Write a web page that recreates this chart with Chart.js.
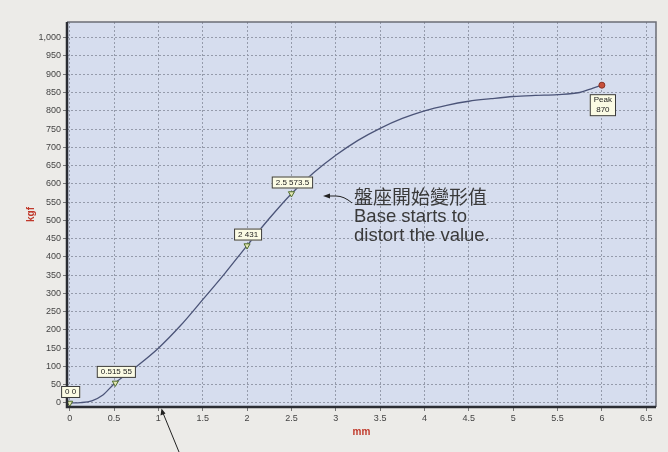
<!DOCTYPE html>
<html>
<head>
<meta charset="utf-8">
<script src="https://cdn.jsdelivr.net/npm/chart.js@4/dist/chart.umd.min.js"></script>
<style>
  html, body { margin: 0; padding: 0; background: #ecebe8; }
  #wrap { width: 668px; height: 452px; }
</style>
</head>
<body>
<div id="wrap"><canvas id="chart" width="668" height="452"></canvas></div>
<script>
// curve (mm -> kgf)
const DISP_MM  = [0, 0.125, 0.25, 0.375, 0.5, 0.75, 1, 1.25, 1.5, 1.75, 2, 2.25, 2.5, 2.75, 3, 3.25, 3.5, 3.75, 4, 4.25, 4.5, 4.75, 5, 5.25, 5.5, 5.75, 5.9, 6];
const LOAD_KGF = [0, 1, 6, 22, 52, 99, 150, 212, 283, 355, 431, 505, 573, 630, 678, 719, 752, 779, 800, 815, 826, 833, 839, 842, 844, 850, 862, 870];

// marked points and their captions
const MARK_X     = [0, 0.515, 2, 2.5];
const MARK_Y     = [0, 55, 431, 573.5];
const MARK_LABEL = ['0 0', '0.515 55', '2 431', '2.5 573.5'];
const PEAK_X = [6];
const PEAK_Y = [870];
const PEAK_LABEL = ['Peak', '870'];

const X_TICKS = [0, 0.5, 1, 1.5, 2, 2.5, 3, 3.5, 4, 4.5, 5, 5.5, 6, 6.5];
const Y_TICKS = [0, 50, 100, 150, 200, 250, 300, 350, 400, 450, 500, 550, 600, 650, 700, 750, 800, 850, 900, 950, 1000];

const NOTE_LINES = ['盤座開始變形值', 'Base starts to', 'distort the value.'];

const tickFont = { family: 'Liberation Sans', size: 9 };

const plotFrame = {
  id: 'plotFrame',
  beforeDraw(chart) {
    const { ctx, chartArea: a } = chart;
    ctx.save();
    ctx.fillStyle = '#d6ddee';
    ctx.fillRect(a.left, a.top, a.right - a.left, a.bottom - a.top);
    ctx.restore();
  },
  afterDraw(chart) {
    const { ctx, chartArea: a } = chart;
    ctx.save();
    // thin top / right edges
    ctx.strokeStyle = '#6b6e76';
    ctx.lineWidth = 1.5;
    ctx.beginPath();
    ctx.moveTo(a.left, a.top); ctx.lineTo(a.right, a.top); ctx.lineTo(a.right, a.bottom);
    ctx.stroke();
    // heavy left / bottom axes
    ctx.strokeStyle = '#2b2d33';
    ctx.lineWidth = 2.5;
    ctx.beginPath();
    ctx.moveTo(a.left, a.top); ctx.lineTo(a.left, a.bottom); ctx.lineTo(a.right, a.bottom);
    ctx.stroke();

    // caption boxes above marks
    const box = (cx, top, lines) => {
      ctx.font = '8px "Liberation Sans"';
      const w = Math.max(...lines.map(t => ctx.measureText(t).width)) + 8;
      const h = lines.length * 10 + 2;
      ctx.fillStyle = '#fbfbe4';
      ctx.fillRect(cx - w / 2, top, w, h);
      ctx.strokeStyle = '#3a3a3a';
      ctx.lineWidth = 1;
      ctx.strokeRect(cx - w / 2 + 0.5, top + 0.5, w - 1, h - 1);
      ctx.fillStyle = '#222';
      ctx.textAlign = 'center';
      ctx.textBaseline = 'middle';
      lines.forEach((t, i) => ctx.fillText(t, cx, top + 6 + i * 10));
    };
    chart.getDatasetMeta(1).data.forEach((p, i) => box(p.x + 1, p.y - 17, [MARK_LABEL[i]]));
    chart.getDatasetMeta(2).data.forEach(p => box(p.x + 1, p.y + 9, PEAK_LABEL));

    // note text
    ctx.fillStyle = '#3a3a3a';
    ctx.textAlign = 'left';
    ctx.textBaseline = 'middle';
    ctx.font = '19px "Noto Sans CJK TC"';
    ctx.fillText(NOTE_LINES[0], 354, 197);
    ctx.font = '18.5px "Liberation Sans"';
    ctx.fillText(NOTE_LINES[1], 354, 217);
    ctx.fillText(NOTE_LINES[2], 354, 236);

    // arrows
    ctx.strokeStyle = '#222';
    ctx.fillStyle = '#222';
    ctx.lineWidth = 1;
    ctx.beginPath();
    ctx.moveTo(352, 203);
    ctx.quadraticCurveTo(344, 196, 336, 196);
    ctx.lineTo(327, 196);
    ctx.stroke();
    ctx.beginPath();
    ctx.moveTo(323, 196); ctx.lineTo(330, 193.5); ctx.lineTo(330, 198.5); ctx.closePath();
    ctx.fill();

    ctx.beginPath();
    ctx.moveTo(179, 452);
    ctx.lineTo(163, 413);
    ctx.stroke();
    ctx.beginPath();
    ctx.moveTo(161.5, 408.5); ctx.lineTo(160.5, 415.5); ctx.lineTo(165.5, 413.5); ctx.closePath();
    ctx.fill();
    ctx.restore();
  }
};

new Chart(document.getElementById('chart'), {
  type: 'scatter',
  data: {
    datasets: [
      {
        data: DISP_MM.map((x, i) => ({ x, y: LOAD_KGF[i] })),
        showLine: true,
        borderColor: '#4b5478',
        borderWidth: 1.3,
        pointRadius: 0,
        cubicInterpolationMode: 'monotone',
        order: 3,
      },
      {
        data: MARK_X.map((x, i) => ({ x, y: MARK_Y[i] })),
        pointStyle: 'triangle',
        rotation: 180,
        pointRadius: 3.5,
        backgroundColor: '#e4e6b4',
        borderColor: '#4f6d2b',
        borderWidth: 1,
        order: 1,
      },
      {
        data: PEAK_X.map((x, i) => ({ x, y: PEAK_Y[i] })),
        pointStyle: 'circle',
        pointRadius: 3,
        backgroundColor: '#c8503c',
        borderColor: '#8a3326',
        borderWidth: 1,
        order: 1,
      },
    ],
  },
  options: {
    responsive: false,
    animation: false,
    events: [],
    layout: { padding: { top: 22, right: 12, left: 0, bottom: 0 } },
    plugins: { legend: { display: false }, tooltip: { enabled: false } },
    scales: {
      x: {
        type: 'linear',
        min: -0.03,
        max: 6.61,
        afterBuildTicks: s => { s.ticks = X_TICKS.map(v => ({ value: v })); },
        afterFit: s => { s.height = 45; },
        ticks: { font: tickFont, color: '#444', padding: 2, maxRotation: 0, callback: v => String(v) },
        grid: { color: '#959bab', lineWidth: 1, tickLength: 4, tickColor: '#777' },
        border: { display: false, dash: [2, 2] },
        title: { display: true, text: 'mm', color: '#c0392b', font: { family: 'Liberation Sans', size: 10, weight: 'bold' }, padding: { top: 0, bottom: 14 } },
      },
      y: {
        type: 'linear',
        min: -11,
        max: 1043,
        afterBuildTicks: s => { s.ticks = Y_TICKS.map(v => ({ value: v })); },
        afterFit: s => { s.width = 67; },
        ticks: { font: tickFont, color: '#444', padding: 2, callback: v => v.toLocaleString('en-US') },
        grid: { color: '#959bab', lineWidth: 1, tickLength: 4, tickColor: '#777' },
        border: { display: false, dash: [2, 2] },
        title: { display: true, text: 'kgf', color: '#c0392b', font: { family: 'Liberation Sans', size: 10, weight: 'bold' }, padding: { top: 25, bottom: 0 } },
      },
    },
  },
  plugins: [plotFrame],
});
</script>
</body>
</html>
